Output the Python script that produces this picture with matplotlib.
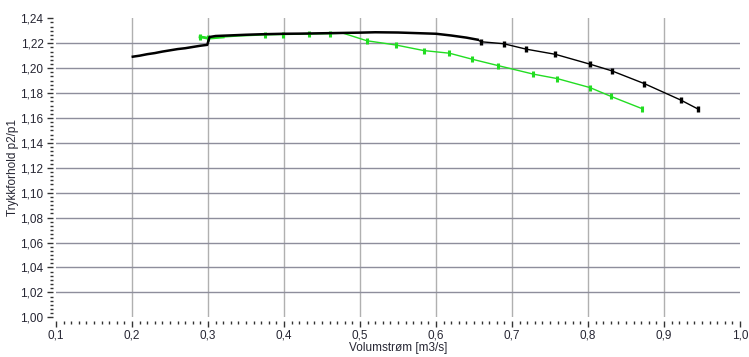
import matplotlib
matplotlib.use("Agg")
import matplotlib.pyplot as plt
from matplotlib.ticker import AutoMinorLocator, FuncFormatter

# Dense (logged) part of the black series
black_dense_x = [0.201, 0.21, 0.22, 0.23, 0.24, 0.25, 0.26, 0.27, 0.28, 0.29, 0.299,
                 0.302, 0.31, 0.33, 0.35, 0.37, 0.40, 0.42, 0.45, 0.47, 0.50,
                 0.52, 0.55, 0.57, 0.60, 0.62, 0.64, 0.655]
black_dense_y = [1.2092, 1.2100, 1.2112, 1.2121, 1.2133, 1.2143, 1.2153, 1.2160, 1.2170, 1.2180, 1.2187,
                 1.2250, 1.2258, 1.2263, 1.2268, 1.2272, 1.2276, 1.2277, 1.2280, 1.2282, 1.2285,
                 1.2288, 1.2286, 1.2282, 1.2276, 1.2262, 1.2245, 1.2228]

# Marked points of the black series
black_pts_x = [0.659, 0.689, 0.719, 0.757, 0.802, 0.831, 0.874, 0.922, 0.945]
black_pts_y = [1.2212, 1.2196, 1.2152, 1.2111, 1.2033, 1.1979, 1.1876, 1.1744, 1.1671]

# Green series
green_x = [0.2895, 0.295, 0.30, 0.31, 0.32, 0.34, 0.375, 0.399, 0.433, 0.46, 0.478,
           0.509, 0.547, 0.584, 0.6175, 0.648, 0.682, 0.728, 0.7596, 0.8026, 0.8303, 0.8715]
green_y = [1.2250, 1.2246, 1.2240, 1.2245, 1.2250, 1.2258, 1.2267, 1.2270, 1.2274, 1.2277, 1.2280,
           1.2220, 1.2186, 1.2141, 1.2120, 1.2071, 1.2020, 1.1952, 1.1916, 1.1844, 1.1773, 1.1674]
green_marked = [0, 2, 6, 7, 8, 9, 11, 12, 13, 14, 15, 16, 17, 18, 19, 20, 21]

x_ticks = [0.1, 0.2, 0.3, 0.4, 0.5, 0.6, 0.7, 0.8, 0.9, 1.0]
y_ticks = [1.00, 1.02, 1.04, 1.06, 1.08, 1.10, 1.12, 1.14, 1.16, 1.18, 1.20, 1.22, 1.24]

plt.rcParams['font.family'] = ['Liberation Sans', 'DejaVu Sans']
text_color = '#262633'

fig = plt.figure(figsize=(7.49, 3.57), dpi=100)
ax = fig.add_axes([0.0748, 0.1112, 0.9132, 0.8375])
ax.set_xlim(x_ticks[0], x_ticks[-1])
ax.set_ylim(y_ticks[0], y_ticks[-1])

# interior grid lines only
for xv in x_ticks[1:-1]:
    ax.axvline(xv, color='#b0b0b0', lw=1.0, zorder=1)
for yv in y_ticks[1:-1]:
    ax.axhline(yv, color='#8e8e9c', lw=1.0, zorder=1)

# green curve
ax.plot(green_x, green_y, color='#22dd22', lw=1.0, zorder=3)
ax.plot(green_x[:5], green_y[:5], color='#22dd22', lw=2.0, zorder=3)
ax.plot([green_x[i] for i in green_marked], [green_y[i] for i in green_marked],
        ls='none', marker='|', ms=5, mew=2.2, color='#22dd22', zorder=3)

# black curve
ax.plot(black_dense_x, black_dense_y, color='black', lw=1.8, zorder=4)
ax.plot([black_dense_x[-1]] + black_pts_x, [black_dense_y[-1]] + black_pts_y,
        color='black', lw=1.0, zorder=4)
ax.plot(black_pts_x, black_pts_y, ls='none', marker='|', ms=5, mew=2.4,
        color='black', zorder=4)

for s in ax.spines.values():
    s.set_visible(False)
ax.spines['left'].set_position(('outward', 2))
ax.spines['bottom'].set_position(('outward', 3))

ax.set_xticks(x_ticks)
ax.set_yticks(y_ticks)
ax.xaxis.set_minor_locator(AutoMinorLocator(10))
ax.yaxis.set_minor_locator(AutoMinorLocator(6))
ax.xaxis.set_major_formatter(FuncFormatter(lambda v, p: f"{v:.1f}".replace('.', ',')))
ax.yaxis.set_major_formatter(FuncFormatter(lambda v, p: f"{v:.2f}".replace('.', ',')))
ax.tick_params(which='major', length=4, width=1, color='#333333', labelsize=8.5,
               labelcolor=text_color, pad=3)
ax.tick_params(axis='x', which='major', pad=2)
ax.tick_params(which='minor', length=2, width=1, color='#333333')

ax.set_xlabel('Volumstrøm [m3/s]', fontsize=8.5, color=text_color, labelpad=0)
ax.set_ylabel('Trykkforhold p2/p1', fontsize=8.5, color=text_color, labelpad=1)

fig.savefig('out.png', dpi=100, facecolor='white')
